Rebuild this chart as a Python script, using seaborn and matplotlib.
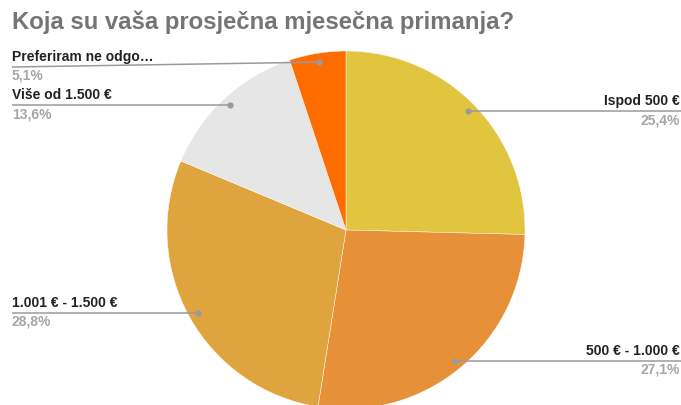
import numpy as np
import matplotlib
matplotlib.use("Agg")
import matplotlib.pyplot as plt
import seaborn as sns

# --- podaci ---
kategorije = ["Ispod 500 €", "500 € - 1.000 €", "1.001 € - 1.500 €",
              "Više od 1.500 €", "Preferiram ne odgo…"]
postoci = [25.4, 27.1, 28.8, 13.6, 5.1]
boje = ["#E2C53E", "#E69138", "#E0A43F", "#E6E6E6", "#FF6D01"]
naslov = "Koja su vaša prosječna mjesečna primanja?"

sns.set_theme(style="white")
plt.rcParams['font.family'] = ['Liberation Sans', 'DejaVu Sans']

W, H = 681, 405
fig = plt.figure(figsize=(W / 100, H / 100), dpi=100)

# položaj pite u pikselima
cx, cy, R = 346, 230, 179
ax = fig.add_axes([(cx - R) / W, (H - cy - R) / H, 2 * R / W, 2 * R / H])
ax.pie(postoci, colors=boje, startangle=90, counterclock=False, radius=1,
       wedgeprops=dict(edgecolor="white", linewidth=0.3))
ax.set_xlim(-1, 1); ax.set_ylim(-1, 1)
ax.set_aspect("equal")
ax.axis("off")

# sloj za oznake u pikselima
ov = fig.add_axes([0, 0, 1, 1], zorder=5)
ov.set_xlim(0, W); ov.set_ylim(H, 0)
ov.axis("off")

ov.text(12, 22, naslov, fontsize=17.2, fontweight="bold", color="#757575", va="center", ha="left")

kut = 90.0
linija = "#9A9A9A"
for ime, p in zip(kategorije, postoci):
    sred = np.deg2rad(kut - p * 3.6 / 2)
    kut -= p * 3.6
    dx = cx + 0.95 * R * np.cos(sred)
    dy = cy - 0.95 * R * np.sin(sred)
    desno = np.cos(sred) > 0
    ly = max(dy, 67)
    if desno:
        ov.plot([dx, W], [dy, ly], color=linija, lw=1.1, solid_capstyle="butt")
        ha, tx = "right", W - 1
    else:
        ov.plot([12, dx], [ly, dy], color=linija, lw=1.1, solid_capstyle="butt")
        ha, tx = "left", 12
    ov.plot([dx], [dy], "o", ms=4.5, color=linija, mec="none")
    ov.text(tx, ly - 3, ime, fontsize=10, fontweight="bold", color="#222222", ha=ha, va="bottom")
    ov.text(tx, ly + 2, f"{p:.1f}%".replace(".", ","), fontsize=10, fontweight="bold",
            color="#A6A6A6", ha=ha, va="top")

fig.savefig("out.png", dpi=100)
